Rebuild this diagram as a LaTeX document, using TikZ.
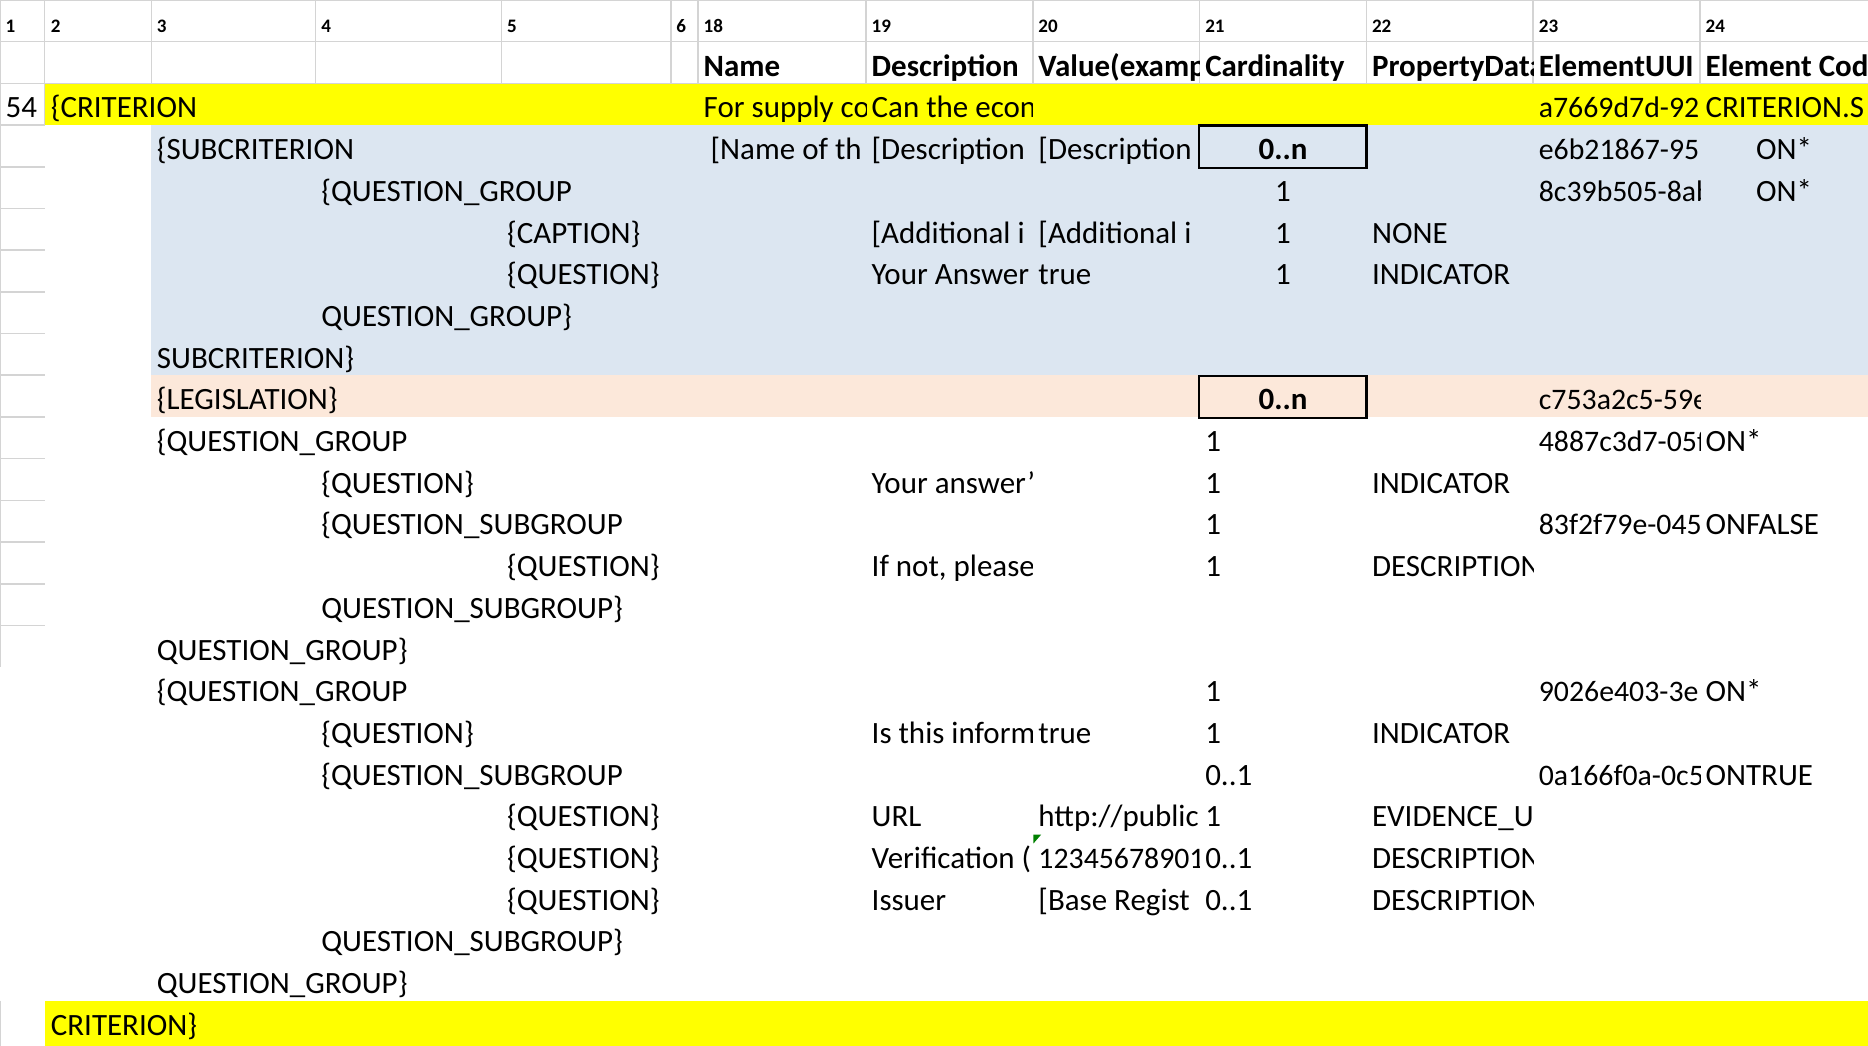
\documentclass[tikz,border=0pt]{standalone}
\usepackage{fontspec}
\setmainfont{Carlito}
\definecolor{gridc}{RGB}{212,212,212}
\definecolor{critc}{RGB}{255,255,0}
\definecolor{subc}{RGB}{220,230,241}
\definecolor{legc}{RGB}{252,232,218}
\definecolor{markc}{RGB}{0,128,0}
\newcommand{\body}{\fontsize{26}{30}\selectfont}
\newcommand{\digits}{\fontsize{25}{30}\selectfont}
\newcommand{\hdr}{\fontsize{16}{19}\selectfont\bfseries}
% #1 name, #2 x0, #3 clip x1, #4 row, #5 text, #6 extra style
\newcommand{\cellt}[6]{%
  \begin{scope}
    \clip (#2,{-35*#4}) rectangle (#3,{-35*#4-37});
    \node[txt,#6] (#1) at ({#2+4.5},{-35*#4-29}) {#5};
  \end{scope}}
% centred text: #1 name, #2 centre x, #3 row, #4 text, #5 extra style
\newcommand{\cellc}[5]{%
  \node[txtc,#5] (#1) at (#2,{-35*#3-29}) {#4};}
\begin{document}
\begin{tikzpicture}[x=1pt,y=1pt,
  txt/.style={anchor=base west,inner sep=0pt,font=\body},
  txtc/.style={anchor=base,inner sep=0pt,font=\body},
  bold/.style={font=\body\bfseries},
  uuid/.style={font=\digits},
  colnum/.style={anchor=base west,inner sep=0pt,font=\hdr},
  gridline/.style={draw=gridc,line width=1.3pt},
  cardbox/.style={draw=black,line width=2pt}]
\useasboundingbox (0,0) rectangle (1568,-878);
\fill[white] (0,0) rectangle (1568,-878);
% ---------- fills
\fill[critc] (38,-70) rectangle (1568,-105);
\fill[subc] (127,-105) rectangle (1568,-315);
\fill[legc] (127,-315) rectangle (1568,-350);
\fill[critc] (38,-840) rectangle (1568,-878);
% ---------- grid lines of header rows
\foreach \y in {0.6,35,70} \draw[gridline] (0,-\y) -- (1568,-\y);
\foreach \x in {0.6,37.5,127,265,421,563,586,727,867,1007,1147,1287,1427}
  \draw[gridline] (\x,0) -- (\x,-70);
% left column of row numbers
\draw[gridline] (0.6,-70) -- (0.6,-560);
\draw[gridline] (0.6,-840) -- (0.6,-878);
\foreach \y in {105,140,...,525} \draw[gridline] (0,-\y) -- (37.5,-\y);
\draw[gridline] (37.5,-70) -- (37.5,-105);
% ---------- column numbers
\foreach \x/\t [count=\i] in {0/1,38/2,127/3,265/4,421/5,563/6,586/18,727/19,867/20,1007/21,1147/22,1287/23,1427/24}
  \node[colnum] (h\i) at (\x+4.5,-27) {\t};
% ---------- header names
\cellt{nName}{586}{727}{1}{Name}{bold}
\cellt{nDesc}{727}{867}{1}{Description}{bold}
\cellt{nVal}{867}{1007}{1}{Value(examp}{bold}
\cellt{nCard}{1007}{1147}{1}{Cardinality}{bold}
\cellt{nProp}{1147}{1287}{1}{PropertyData}{bold}
\cellt{nUUID}{1287}{1427}{1}{ElementUUI}{bold}
\cellt{nCode}{1427}{1568}{1}{Element Cod}{bold}
% ---------- row 54 (criterion)
\cellt{r54}{0}{37}{2}{54}{}
\cellt{a2}{38}{586}{2}{\{CRITERION}{}
\cellt{g2}{586}{727}{2}{For supply co}{}
\cellt{h2}{727}{867}{2}{Can the econ}{}
\cellt{l2}{1287}{1427}{2}{a7669d7d-92}{uuid}
\cellt{m2}{1427}{1568}{2}{CRITERION.S}{}
% ---------- subcriterion block
\cellt{a3}{127}{586}{3}{\{SUBCRITERION}{}
\cellt{g3}{586}{727}{3}{\ [Name of th}{}
\cellt{h3}{727}{867}{3}{[Description}{}
\cellt{i3}{867}{1007}{3}{[Description}{}
\cellc{j3}{1077}{3}{0..n}{bold}
\cellt{l3}{1287}{1427}{3}{e6b21867-95}{uuid}
\cellc{m3}{1497.5}{3}{ON*}{}
\cellt{a4}{265}{727}{4}{\{QUESTION\_GROUP}{}
\cellc{j4}{1077}{4}{1}{}
\cellt{l4}{1287}{1427}{4}{8c39b505-8ab}{uuid}
\cellc{m4}{1497.5}{4}{ON*}{}
\cellt{a5}{421}{727}{5}{\{CAPTION\}}{}
\cellt{h5}{727}{867}{5}{[Additional i}{}
\cellt{i5}{867}{1007}{5}{[Additional i}{}
\cellc{j5}{1077}{5}{1}{}
\cellt{k5}{1147}{1287}{5}{NONE}{}
\cellt{a6}{421}{727}{6}{\{QUESTION\}}{}
\cellt{h6}{727}{867}{6}{Your Answer}{}
\cellt{i6}{867}{1007}{6}{true}{}
\cellc{j6}{1077}{6}{1}{}
\cellt{k6}{1147}{1287}{6}{INDICATOR}{}
\cellt{a7}{265}{727}{7}{QUESTION\_GROUP\}}{}
\cellt{a8}{127}{727}{8}{SUBCRITERION\}}{}
% ---------- legislation
\cellt{a9}{127}{727}{9}{\{LEGISLATION\}}{}
\cellc{j9}{1077}{9}{0..n}{bold}
\cellt{l9}{1287}{1427}{9}{c753a2c5-59e}{uuid}
% ---------- first question group
\cellt{a10}{127}{727}{10}{\{QUESTION\_GROUP}{}
\cellt{j10}{1007}{1147}{10}{1}{}
\cellt{l10}{1287}{1427}{10}{4887c3d7-05f}{uuid}
\cellt{m10}{1427}{1568}{10}{ON*}{}
\cellt{a11}{265}{727}{11}{\{QUESTION\}}{}
\cellt{h11}{727}{867}{11}{Your answer'}{}
\cellt{j11}{1007}{1147}{11}{1}{}
\cellt{k11}{1147}{1287}{11}{INDICATOR}{}
\cellt{a12}{265}{727}{12}{\{QUESTION\_SUBGROUP}{}
\cellt{j12}{1007}{1147}{12}{1}{}
\cellt{l12}{1287}{1427}{12}{83f2f79e-045}{uuid}
\cellt{m12}{1427}{1568}{12}{ONFALSE}{}
\cellt{a13}{421}{727}{13}{\{QUESTION\}}{}
\cellt{h13}{727}{867}{13}{If not, please}{}
\cellt{j13}{1007}{1147}{13}{1}{}
\cellt{k13}{1147}{1287}{13}{DESCRIPTION}{}
\cellt{a14}{265}{727}{14}{QUESTION\_SUBGROUP\}}{}
\cellt{a15}{127}{727}{15}{QUESTION\_GROUP\}}{}
% ---------- second question group
\cellt{a16}{127}{727}{16}{\{QUESTION\_GROUP}{}
\cellt{j16}{1007}{1147}{16}{1}{}
\cellt{l16}{1287}{1427}{16}{9026e403-3e}{uuid}
\cellt{m16}{1427}{1568}{16}{ON*}{}
\cellt{a17}{265}{727}{17}{\{QUESTION\}}{}
\cellt{h17}{727}{867}{17}{Is this inform}{}
\cellt{i17}{867}{1007}{17}{true}{}
\cellt{j17}{1007}{1147}{17}{1}{}
\cellt{k17}{1147}{1287}{17}{INDICATOR}{}
\cellt{a18}{265}{727}{18}{\{QUESTION\_SUBGROUP}{}
\cellt{j18}{1007}{1147}{18}{0..1}{}
\cellt{l18}{1287}{1427}{18}{0a166f0a-0c5}{uuid}
\cellt{m18}{1427}{1568}{18}{ONTRUE}{}
\cellt{a19}{421}{727}{19}{\{QUESTION\}}{}
\cellt{h19}{727}{867}{19}{URL}{}
\cellt{i19}{867}{1007}{19}{http://public}{}
\cellt{j19}{1007}{1147}{19}{1}{}
\cellt{k19}{1147}{1287}{19}{EVIDENCE\_U}{}
\cellt{a20}{421}{727}{20}{\{QUESTION\}}{}
\cellt{h20}{727}{867}{20}{Verification (}{}
\cellt{i20}{867}{1007}{20}{12345678901}{uuid}
\cellt{j20}{1007}{1147}{20}{0..1}{}
\cellt{k20}{1147}{1287}{20}{DESCRIPTION}{}
\cellt{a21}{421}{727}{21}{\{QUESTION\}}{}
\cellt{h21}{727}{867}{21}{Issuer}{}
\cellt{i21}{867}{1007}{21}{[Base Regist}{}
\cellt{j21}{1007}{1147}{21}{0..1}{}
\cellt{k21}{1147}{1287}{21}{DESCRIPTION}{}
\cellt{a22}{265}{727}{22}{QUESTION\_SUBGROUP\}}{}
\cellt{a23}{127}{727}{23}{QUESTION\_GROUP\}}{}
\cellt{a24}{38}{727}{24}{CRITERION\}}{}
% ---------- cardinality boxes and marker
\draw[cardbox] (1006.5,-105.5) rectangle (1147,-141);
\draw[cardbox] (1006.5,-315.5) rectangle (1147,-351);
\fill[markc] (867.5,-700.5) -- (874,-700.5) -- (867.5,-708) -- cycle;
\end{tikzpicture}
\end{document}
